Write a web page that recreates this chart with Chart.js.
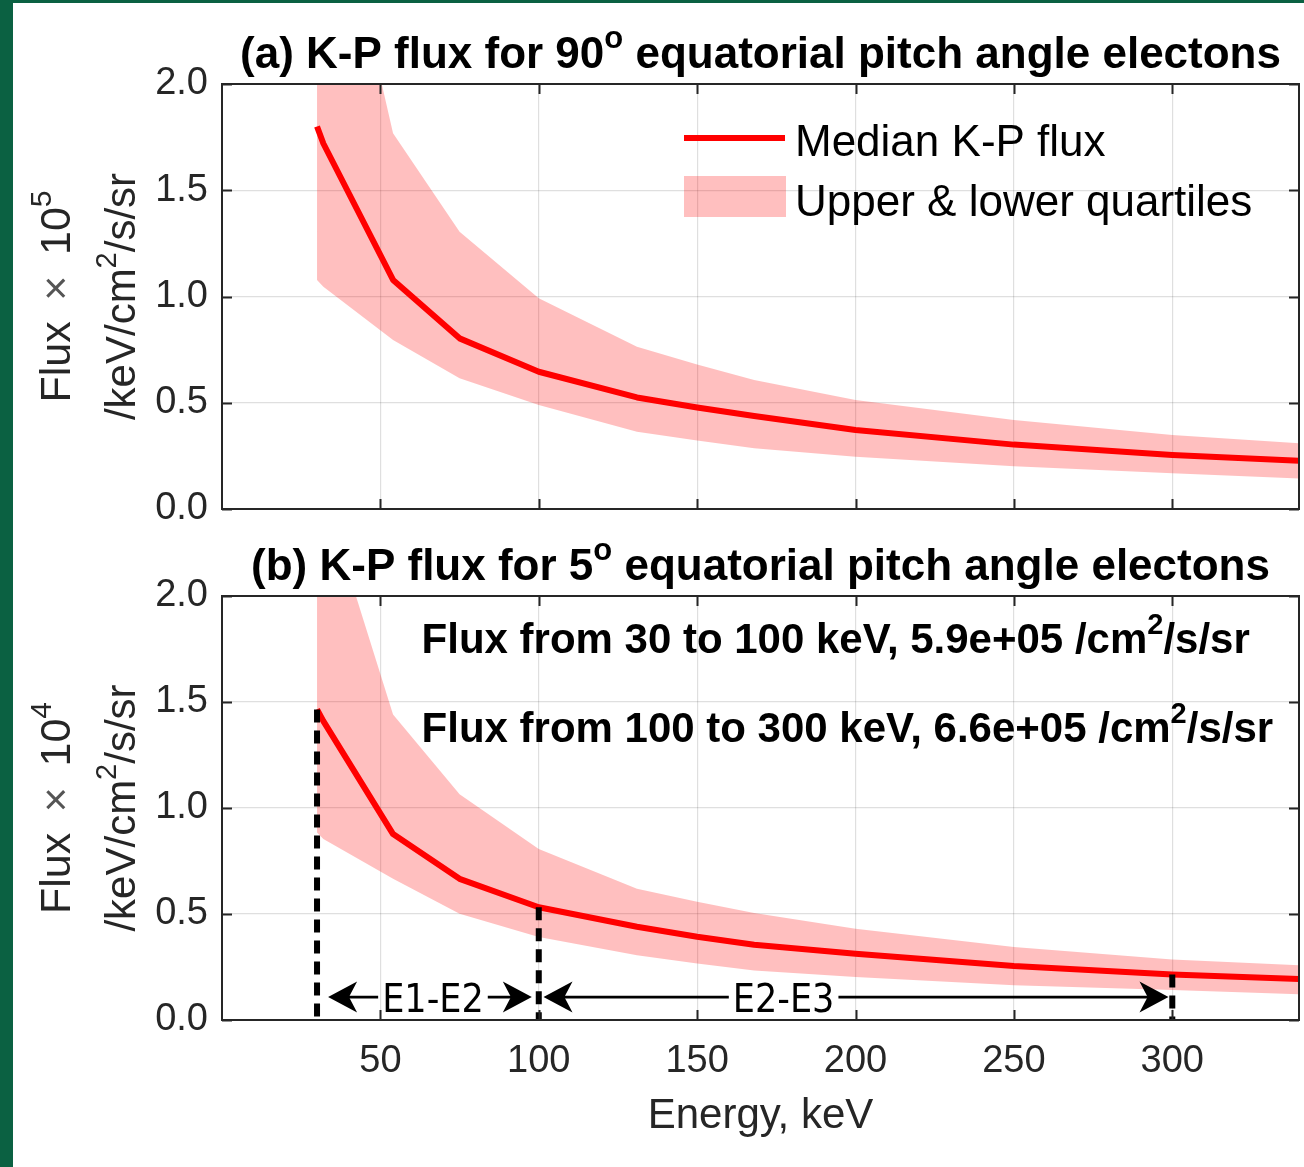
<!DOCTYPE html>
<html><head><meta charset="utf-8">
<script src="https://cdn.jsdelivr.net/npm/chart.js@4.4.0/dist/chart.umd.min.js"></script>
<style>
html,body{margin:0;padding:0;background:#fff;}
body{width:1304px;height:1167px;position:relative;overflow:hidden;}
#gl{position:absolute;left:0;top:0;width:13px;height:1167px;background:#0b6142;}
#gt{position:absolute;left:0;top:0;width:1304px;height:3px;background:#0b6142;}
#ca{position:absolute;left:0;top:0;}
#cb{position:absolute;left:0;top:530px;}
</style></head><body>
<canvas id="ca" width="1304" height="530"></canvas>
<canvas id="cb" width="1304" height="637"></canvas>
<div id="gl"></div><div id="gt"></div>
<script>
// ---------- data ----------
const energy  = [30, 32, 54, 75, 100, 131, 150, 168, 200, 250, 300, 340];
const medianA = [1.80, 1.72, 1.078, 0.803, 0.646, 0.525, 0.478, 0.438, 0.372, 0.303, 0.254, 0.227];
const upperA  = [3.40, 3.20, 1.768, 1.305, 0.992, 0.764, 0.680, 0.607, 0.513, 0.419, 0.348, 0.309];
const lowerA  = [1.078, 1.046, 0.795, 0.615, 0.489, 0.364, 0.322, 0.286, 0.246, 0.201, 0.168, 0.144];
const medianB = [1.465, 1.41, 0.877, 0.666, 0.532, 0.440, 0.393, 0.355, 0.313, 0.255, 0.215, 0.193];
const upperB  = [2.60, 2.49, 1.441, 1.065, 0.807, 0.619, 0.558, 0.505, 0.431, 0.344, 0.285, 0.258];
const lowerB  = [0.885, 0.854, 0.666, 0.501, 0.391, 0.305, 0.266, 0.234, 0.203, 0.164, 0.141, 0.122];
const xTicks = [50, 100, 150, 200, 250, 300];
const yTicks = [0, 0.5, 1.0, 1.5, 2.0];
const markE   = [30, 100, 300];
const markTop = [1.465, 0.532, 0.215];
const arrowSpans = [[33.5, 97.8], [101.5, 298.8]];
const arrowLabels = ['E1-E2', 'E2-E3'];
const arrowLabelE = [66.6, 177.3];
const arrowY = 0.108;
const legendLabels = ['Median K-P flux', 'Upper & lower quartiles'];
const fluxTexts = [
  [{t:'Flux from 30 to 100 keV, 5.9e+05 /cm'},{t:'2',sup:true},{t:'/s/sr'}],
  [{t:'Flux from 100 to 300 keV, 6.6e+05 /cm'},{t:'2',sup:true},{t:'/s/sr'}]
];
const fluxTextE = 63, fluxTextY = [1.73, 1.31];

// ---------- style ----------
const FAM = "'Liberation Sans', Arial, Helvetica, sans-serif";
const NARROW = "'Liberation Sans Narrow', 'DejaVu Sans Condensed', 'Liberation Sans', sans-serif";
const INK = '#262626';
const GRID = 'rgba(38,38,38,0.15)';
const BAND = 'rgba(255,0,0,0.25)';

function pts(xs, ys){ return xs.map((x,i)=>({x:x, y:ys[i]})); }

function richWidth(ctx, parts, size, weight){
  let w = 0;
  for (const p of parts){
    ctx.font = weight + ' ' + (p.sup ? Math.round(size*0.7) : size) + 'px ' + FAM;
    w += ctx.measureText(p.t).width;
  }
  return w;
}
function drawRich(ctx, parts, x, y, size, weight, align, color){
  const w = richWidth(ctx, parts, size, weight);
  let cx = align === 'center' ? x - w/2 : (align === 'right' ? x - w : x);
  ctx.textAlign = 'left'; ctx.textBaseline = 'alphabetic';
  for (const p of parts){
    const s = p.sup ? Math.round(size*0.7) : size;
    ctx.font = weight + ' ' + s + 'px ' + FAM;
    ctx.fillStyle = p.color || color;
    ctx.fillText(p.t, cx, p.sup ? y - size*0.45 : y);
    cx += ctx.measureText(p.t).width;
  }
}
function arrowHead(ctx, x, y, dir){
  const L = 29, W = 31;
  ctx.beginPath();
  ctx.moveTo(x, y);
  ctx.lineTo(x + dir*L, y - W/2);
  ctx.lineTo(x + dir*L*0.72, y);
  ctx.lineTo(x + dir*L, y + W/2);
  ctx.closePath();
  ctx.fill();
}

function makeChart(id, cfg){
  const deco = {
    id: 'deco_' + id,
    afterDatasetsDraw(chart){
      const ctx = chart.ctx, a = chart.chartArea;
      const xs = chart.scales.x, ys = chart.scales.y;
      ctx.save();
      if (cfg.annot){
        ctx.strokeStyle = '#000'; ctx.lineWidth = 6; ctx.lineCap = 'butt';
        ctx.setLineDash([13, 8]);
        markE.forEach((e,i)=>{
          const px = xs.getPixelForValue(e);
          ctx.beginPath();
          ctx.moveTo(px, ys.getPixelForValue(markTop[i]));
          ctx.lineTo(px, a.bottom);
          ctx.stroke();
        });
        ctx.setLineDash([]);
        const py = ys.getPixelForValue(arrowY);
        ctx.fillStyle = '#000'; ctx.strokeStyle = '#000'; ctx.lineWidth = 2.6;
        arrowSpans.forEach((sp,i)=>{
          const x1 = xs.getPixelForValue(sp[0]), x2 = xs.getPixelForValue(sp[1]);
          const lx = xs.getPixelForValue(arrowLabelE[i]);
          ctx.font = '39px ' + NARROW;
          const tw = ctx.measureText(arrowLabels[i]).width;
          ctx.beginPath();
          ctx.moveTo(x1 + 10, py); ctx.lineTo(lx - tw/2 - 4, py);
          ctx.moveTo(lx + tw/2 + 4, py); ctx.lineTo(x2 - 10, py);
          ctx.stroke();
          arrowHead(ctx, x1, py, 1);
          arrowHead(ctx, x2, py, -1);
          ctx.textAlign = 'center'; ctx.textBaseline = 'alphabetic';
          ctx.fillText(arrowLabels[i], lx, py + 14.5);
        });
        fluxTexts.forEach((parts,i)=>{
          drawRich(ctx, parts, xs.getPixelForValue(fluxTextE), ys.getPixelForValue(fluxTextY[i]), 42, 'bold', 'left', '#000');
        });
      }
      ctx.strokeStyle = INK; ctx.lineWidth = 2;
      ctx.strokeRect(a.left, a.top, a.right - a.left, a.bottom - a.top);
      ctx.beginPath();
      xTicks.forEach(v=>{
        const px = Math.round(xs.getPixelForValue(v)) + 0.5;
        ctx.moveTo(px, a.bottom); ctx.lineTo(px, a.bottom - 10);
        ctx.moveTo(px, a.top); ctx.lineTo(px, a.top + 10);
      });
      yTicks.forEach(v=>{
        const py = Math.round(ys.getPixelForValue(v)) + 0.5;
        ctx.moveTo(a.left, py); ctx.lineTo(a.left + 10, py);
        ctx.moveTo(a.right, py); ctx.lineTo(a.right - 10, py);
      });
      ctx.stroke();
      ctx.restore();
    },
    afterDraw(chart){
      const ctx = chart.ctx, a = chart.chartArea;
      const cx = (a.left + a.right)/2, cy = (a.top + a.bottom)/2;
      ctx.save();
      drawRich(ctx, cfg.title, cx, cfg.titleY, 44, 'bold', 'center', '#000');
      ctx.save(); ctx.translate(70, cy); ctx.rotate(-Math.PI/2);
      drawRich(ctx, cfg.ylab1, 0, 0, 43, 'normal', 'center', INK);
      ctx.restore();
      ctx.save(); ctx.translate(135, cy); ctx.rotate(-Math.PI/2);
      drawRich(ctx, [{t:'/keV/cm'},{t:'2',sup:true},{t:'/s/sr'}], 0, 0, 42, 'normal', 'center', INK);
      ctx.restore();
      if (cfg.legend){
        ctx.strokeStyle = '#ff0000'; ctx.lineWidth = 6; ctx.lineCap = 'butt';
        ctx.beginPath(); ctx.moveTo(684, 138); ctx.lineTo(785, 138); ctx.stroke();
        ctx.fillStyle = BAND; ctx.fillRect(684, 176, 102, 41);
        ctx.fillStyle = '#000'; ctx.font = '44px ' + FAM;
        ctx.textAlign = 'left'; ctx.textBaseline = 'alphabetic';
        ctx.fillText(legendLabels[0], 795, 156);
        ctx.fillText(legendLabels[1], 795, 216);
      }
      if (cfg.xlabel){
        ctx.fillStyle = INK; ctx.font = '42px ' + FAM;
        ctx.textAlign = 'center'; ctx.textBaseline = 'alphabetic';
        ctx.fillText('Energy, keV', cx, cfg.xlabelY);
      }
      ctx.restore();
    }
  };
  return new Chart(document.getElementById(id), {
    type: 'line',
    data: { datasets: [
      { data: pts(energy, cfg.upper), borderWidth: 0, pointRadius: 0, fill: '+1', backgroundColor: BAND, order: 2, clip: 0 },
      { data: pts(energy, cfg.lower), borderWidth: 0, pointRadius: 0, fill: false, order: 3, clip: 0 },
      { data: pts(energy, cfg.median), borderColor: '#ff0000', borderWidth: 6, pointRadius: 0, fill: false, order: 1,
        borderJoinStyle: 'round', borderCapStyle: 'butt', tension: 0 }
    ]},
    options: {
      responsive: false, animation: false, devicePixelRatio: 1,
      layout: { padding: cfg.padding },
      plugins: { legend: { display: false }, tooltip: { enabled: false }, title: { display: false } },
      scales: {
        x: { type: 'linear', min: 0, max: 340,
          afterBuildTicks: s => { s.ticks = xTicks.map(v => ({value: v})); },
          afterFit: s => { s.height = cfg.xHeight; s.paddingLeft = 0; s.paddingRight = 0; },
          grid: { color: GRID, drawTicks: false, lineWidth: 1.2 }, border: { display: false },
          ticks: { display: cfg.showX, font: { size: 38, family: FAM }, color: INK, padding: 19, maxRotation: 0, autoSkip: false } },
        y: { min: 0, max: 2,
          afterBuildTicks: s => { s.ticks = yTicks.map(v => ({value: v})); },
          afterFit: s => { s.width = 222; s.paddingTop = 0; s.paddingBottom = 0; },
          grid: { color: GRID, drawTicks: false, lineWidth: 1.2 }, border: { display: false },
          ticks: { font: { size: 38, family: FAM }, color: INK, padding: 14, callback: v => Number(v).toFixed(1) } }
      }
    },
    plugins: [deco]
  });
}

makeChart('ca', {
  median: medianA, upper: upperA, lower: lowerA,
  padding: { top: 84, right: 5, bottom: 0, left: 0 }, xHeight: 21, showX: false,
  title: [{t:'(a) K-P flux for 90'},{t:'o',sup:true},{t:' equatorial pitch angle electons'}], titleY: 68,
  ylab1: [{t:'Flux \u2009'},{t:'\u00d7',color:'#555'},{t:'\u2009 10'},{t:'5',sup:true}],
  legend: true, annot: false, xlabel: false
});
makeChart('cb', {
  median: medianB, upper: upperB, lower: lowerB,
  padding: { top: 66, right: 5, bottom: 0, left: 0 }, xHeight: 147, showX: true,
  title: [{t:'(b) K-P flux for 5'},{t:'o',sup:true},{t:' equatorial pitch angle electons'}], titleY: 50,
  ylab1: [{t:'Flux \u2009'},{t:'\u00d7',color:'#555'},{t:'\u2009 10'},{t:'4',sup:true}],
  legend: false, annot: true, xlabel: true, xlabelY: 598
});
</script>
</body></html>
